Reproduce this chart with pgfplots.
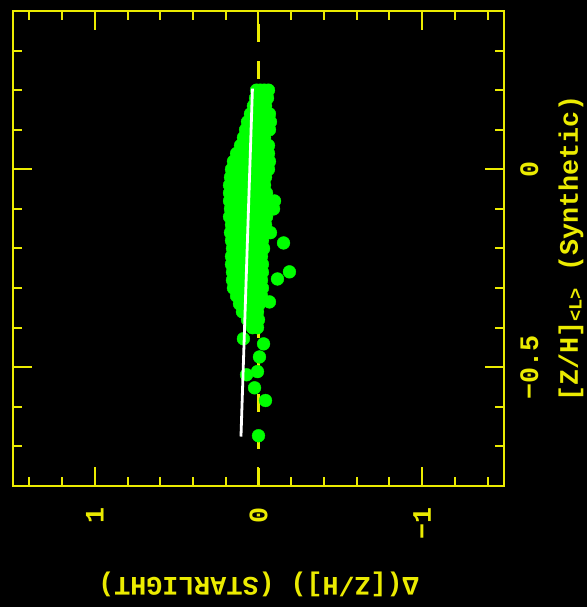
\documentclass[border=0pt]{standalone}
\usepackage{fontspec}
\setmainfont{Liberation Mono}
\usepackage{pgfplots}
\pgfplotsset{compat=1.18}
\definecolor{pgyellow}{RGB}{235,235,0}
\definecolor{pggreen}{RGB}{0,255,0}
\newcommand{\pgfont}{\fontsize{26.8}{30}\selectfont\bfseries}
\begin{document}
\begin{tikzpicture}
\useasboundingbox (0,0) rectangle (587bp,607bp);
\fill[black] (0,0) rectangle (587bp,607bp);
\begin{axis}[
  at={(13bp,121bp)}, anchor=south west,
  scale only axis, width=491bp, height=475bp,
  xmin=-1.5, xmax=1.5, x dir=reverse,
  ymin=-0.8, ymax=0.4,
  xtick={-1,0,1}, xticklabels={−1,0,1},
  minor xtick={-1.4,-1.2,-0.8,-0.6,-0.4,-0.2,0.2,0.4,0.6,0.8,1.2,1.4},
  ytick={-0.5,0}, yticklabels={−0.5,0},
  minor ytick={-0.7,-0.6,-0.4,-0.3,-0.2,-0.1,0.1,0.2,0.3},
  xtick pos=both, ytick pos=both,
  yticklabel pos=right,
  tick align=inside,
  major tick length=19bp, minor tick length=9bp,
  tick style={pgyellow, line width=2bp},
  axis line style={pgyellow, line width=2.2bp},
  tick label style={font=\pgfont, text=pgyellow, inner sep=0pt},
  xticklabel style={rotate=90, anchor=east},
  xticklabel shift=21bp,
  yticklabel style={rotate=90, anchor=north},
  yticklabel shift=16bp,
  xlabel={Δ([Z/H]) (STARLIGHT)},
  xlabel style={at={(axis description cs:0.5,-0.208)}, anchor=center, rotate=180, font=\pgfont, text=pgyellow},
  ylabel={[Z/H]\textsubscript{<L>} (Synthetic)},
  ylabel style={at={(axis description cs:1.1365,0.5)}, anchor=center, font=\pgfont, text=pgyellow},
  clip=true, clip marker paths=true,
]
\addplot[pgyellow, line width=2.4bp, dash pattern=on 18bp off 19bp] coordinates {(0,-0.8) (0,0.4)};
\addplot[only marks, mark=*, mark size=6.4bp, mark options={fill=pggreen, draw=pggreen}] coordinates {
(0.012,0.20) (-0.012,0.20) (-0.036,0.20) (-0.061,0.20)
(0.018,0.18) (-0.006,0.18) (-0.030,0.18) (-0.055,0.18)
(0.031,0.16) (0.006,0.16) (-0.018,0.16) (-0.043,0.16)
(0.049,0.14) (0.024,0.14) (0.000,0.14) (-0.024,0.14) (-0.049,0.14) (-0.067,0.14)
(0.067,0.12) (0.040,0.12) (0.015,0.12) (-0.010,0.12) (-0.035,0.12) (-0.060,0.12) (-0.073,0.12)
(0.079,0.10) (0.055,0.10) (0.030,0.10) (0.005,0.10) (-0.020,0.10) (-0.045,0.10) (-0.067,0.10)
(0.092,0.08) (0.065,0.08) (0.040,0.08) (0.015,0.08) (-0.010,0.08) (-0.037,0.08)
(0.110,0.06) (0.085,0.06) (0.060,0.06) (0.035,0.06) (0.010,0.06) (-0.015,0.06) (-0.040,0.06) (-0.061,0.06)
(0.134,0.04) (0.108,0.04) (0.082,0.04) (0.056,0.04) (0.030,0.04) (0.005,0.04) (-0.020,0.04) (-0.045,0.04) (-0.061,0.04)
(0.153,0.02) (0.127,0.02) (0.101,0.02) (0.075,0.02) (0.049,0.02) (0.023,0.02) (-0.003,0.02) (-0.029,0.02) (-0.055,0.02) (-0.067,0.02)
(0.165,0.00) (0.140,0.00) (0.115,0.00) (0.090,0.00) (0.065,0.00) (0.040,0.00) (0.015,0.00) (-0.010,0.00) (-0.035,0.00) (-0.061,0.00)
(0.171,-0.02) (0.145,-0.02) (0.120,-0.02) (0.095,-0.02) (0.070,-0.02) (0.045,-0.02) (0.020,-0.02) (-0.005,-0.02) (-0.030,-0.02) (-0.043,-0.02)
(0.177,-0.04) (0.150,-0.04) (0.124,-0.04) (0.098,-0.04) (0.072,-0.04) (0.046,-0.04) (0.020,-0.04) (-0.006,-0.04) (-0.037,-0.04)
(0.177,-0.06) (0.152,-0.06) (0.127,-0.06) (0.102,-0.06) (0.077,-0.06) (0.052,-0.06) (0.027,-0.06) (0.002,-0.06) (-0.023,-0.06) (-0.049,-0.06)
(0.177,-0.08) (0.150,-0.08) (0.123,-0.08) (0.096,-0.08) (0.069,-0.08) (0.042,-0.08) (0.015,-0.08) (-0.012,-0.08) (-0.040,-0.08) (-0.070,-0.08) (-0.098,-0.08)
(0.171,-0.10) (0.145,-0.10) (0.119,-0.10) (0.093,-0.10) (0.067,-0.10) (0.041,-0.10) (0.015,-0.10) (-0.011,-0.10) (-0.037,-0.10) (-0.065,-0.10) (-0.092,-0.10)
(0.177,-0.12) (0.150,-0.12) (0.124,-0.12) (0.098,-0.12) (0.072,-0.12) (0.046,-0.12) (0.020,-0.12) (-0.006,-0.12) (-0.032,-0.12) (-0.049,-0.12)
(0.165,-0.14) (0.139,-0.14) (0.113,-0.14) (0.087,-0.14) (0.061,-0.14) (0.035,-0.14) (0.009,-0.14) (-0.017,-0.14) (-0.043,-0.14)
(0.171,-0.16) (0.145,-0.16) (0.119,-0.16) (0.093,-0.16) (0.067,-0.16) (0.041,-0.16) (0.015,-0.16) (-0.011,-0.16) (-0.037,-0.16) (-0.060,-0.16) (-0.073,-0.16)
(0.165,-0.18) (0.139,-0.18) (0.113,-0.18) (0.087,-0.18) (0.061,-0.18) (0.035,-0.18) (0.009,-0.18) (-0.015,-0.18) (-0.024,-0.18) (-0.153,-0.186)
(0.159,-0.20) (0.133,-0.20) (0.107,-0.20) (0.081,-0.20) (0.055,-0.20) (0.029,-0.20) (0.003,-0.20) (-0.023,-0.20) (-0.031,-0.20)
(0.165,-0.22) (0.139,-0.22) (0.113,-0.22) (0.087,-0.22) (0.061,-0.22) (0.035,-0.22) (0.009,-0.22) (-0.018,-0.22)
(0.165,-0.24) (0.139,-0.24) (0.113,-0.24) (0.087,-0.24) (0.061,-0.24) (0.035,-0.24) (0.009,-0.24) (-0.017,-0.24) (-0.024,-0.24)
(0.159,-0.26) (0.133,-0.26) (0.107,-0.26) (0.081,-0.26) (0.055,-0.26) (0.029,-0.26) (0.003,-0.26) (-0.024,-0.26) (-0.189,-0.259)
(0.159,-0.28) (0.133,-0.28) (0.107,-0.28) (0.081,-0.28) (0.055,-0.28) (0.029,-0.28) (0.003,-0.28) (-0.018,-0.28) (-0.116,-0.277)
(0.153,-0.30) (0.127,-0.30) (0.101,-0.30) (0.075,-0.30) (0.049,-0.30) (0.023,-0.30) (-0.003,-0.30) (-0.024,-0.30)
(0.134,-0.32) (0.108,-0.32) (0.082,-0.32) (0.056,-0.32) (0.030,-0.32) (0.004,-0.32) (-0.018,-0.32) (-0.067,-0.335)
(0.116,-0.34) (0.090,-0.34) (0.064,-0.34) (0.038,-0.34) (0.012,-0.34) (-0.006,-0.34)
(0.098,-0.36) (0.072,-0.36) (0.046,-0.36) (0.020,-0.36) (0.006,-0.36)
(0.067,-0.38) (0.041,-0.38) (0.015,-0.38) (0.000,-0.38)
(0.037,-0.40) (0.006,-0.40)
(0.092,-0.428) (-0.031,-0.441) (-0.006,-0.474) (0.006,-0.511) (0.073,-0.519) (0.024,-0.552) (-0.043,-0.584) (0.000,-0.673)
};
\addplot[white, line width=2.8bp] coordinates {(0.037,0.204) (0.107,-0.675)};
\end{axis}
\end{tikzpicture}
\end{document}
